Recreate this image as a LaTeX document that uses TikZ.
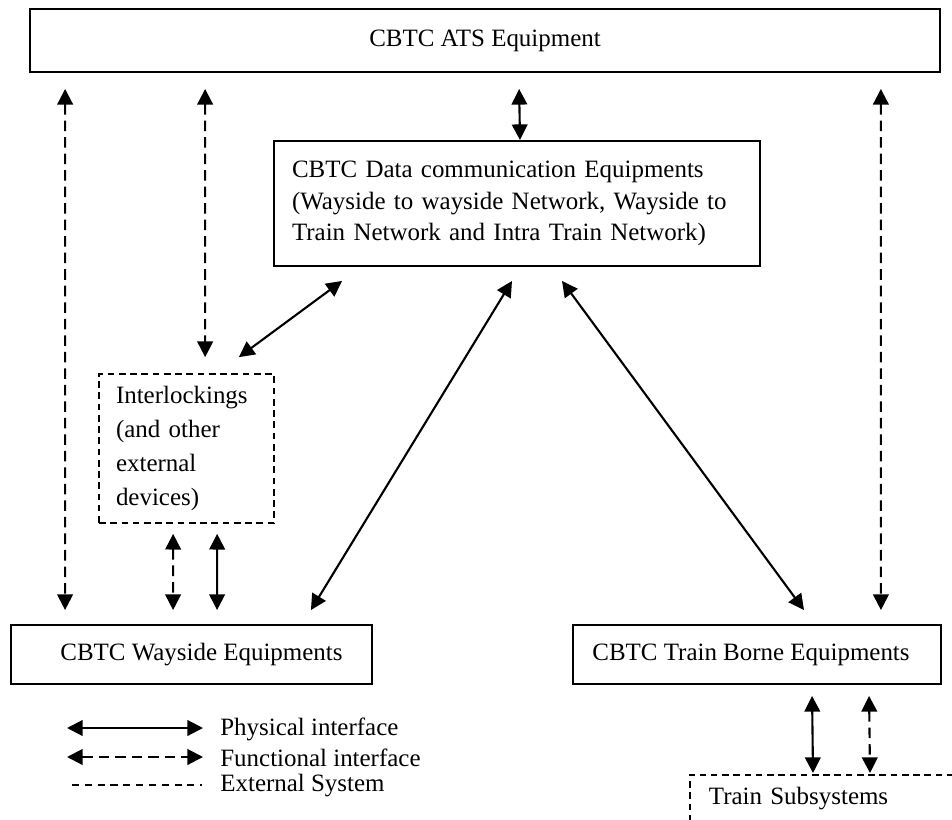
\documentclass[tikz,border=0pt]{standalone}
\usepackage{fontspec}
\setmainfont{Liberation Serif}
\usetikzlibrary{arrows.meta}
\tikzset{
  equip/.style={draw,line width=1.1pt,inner sep=0pt},
  extsys/.style={draw,line width=1pt,dash pattern=on 3.8pt off 2.6pt},
  phyif/.style={line width=1.2pt,{Triangle[length=8.9pt,width=8.9pt]}-{Triangle[length=8.9pt,width=8.9pt]}},
  funcif/.style={phyif,dash pattern=on 6pt off 3.4pt},
  legtext/.style={anchor=west,inner sep=0pt},
}
\begin{document}
\begin{tikzpicture}[x=0.02cm,y=-0.02cm,font=\fontsize{14.2pt}{19pt}\selectfont]
%
\clip (0,0) rectangle (952,820);
%
\node[equip,minimum width=18.2cm,minimum height=1.26cm] (ats) at (485,40.5) {CBTC ATS Equipment};
\node[equip,align=left,text width=9cm,inner xsep=0.36cm,minimum height=2.5cm,
      font=\fontsize{14.2pt}{18pt}\selectfont] (comm) at (517,203.5)
      {CBTC Data communication Equipments\\(Wayside to wayside Network, Wayside to\\Train Network and Intra Train Network)};
\node[extsys,align=left,text width=2.82cm,inner xsep=0.34cm,inner ysep=0pt,minimum height=2.98cm,
      font=\fontsize{14.2pt}{19.3pt}\selectfont] (inter) at (186.5,448.5)
      {Interlockings\\(and other\\external\\devices)};
\node[equip,minimum width=7.22cm,minimum height=1.18cm] (way) at (191.5,654.5) {\hspace*{0.4cm}CBTC Wayside Equipments};
\node[equip,minimum width=7.36cm,minimum height=1.18cm] (train) at (757,654.5) {CBTC Train Borne Equipments\hspace*{0.24cm}};
\node[extsys,anchor=north west,align=left,text width=7cm,inner xsep=0.38cm,inner ysep=0.34cm,
      text height=0.7em,text depth=3cm] (sub) at (689,774) {Train Subsystems};
%
\draw[funcif] ([shift={(36,16)}]ats.south west) -- ([shift={(55,-14)}]way.north west);
\draw[funcif] ([shift={(176,16)}]ats.south west) -- ([shift={(107,-16)}]inter.north west);
\draw[phyif] ([shift={(490,16)}]ats.south west) -- ([shift={(3,0)}]comm.north);
\draw[funcif] ([shift={(-60,16)}]ats.south east) -- ([shift={(-61,-14)}]train.north east);
%
\draw[phyif] ([shift={(-36,-16)}]inter.north east) -- ([shift={(69,14)}]comm.south west);
\draw[phyif] ([shift={(-62,-14)}]way.north east) -- ([shift={(-5,14)}]comm.south);
\draw[phyif] ([shift={(45,14)}]comm.south) -- ([shift={(47,-14)}]train.north);
%
\draw[funcif] ([shift={(75,10)}]inter.south west) -- ([shift={(163,-14)}]way.north west);
\draw[phyif] ([shift={(119,10)}]inter.south west) -- ([shift={(207,-14)}]way.north west);
\draw[phyif] ([shift={(240,11)}]train.south west) -- ([shift={(124,-1)}]sub.north west);
\draw[funcif] ([shift={(297,11)}]train.south west) -- ([shift={(181,-1)}]sub.north west);
%
% legend
\node[legtext] (phylab) at (220,729) {Physical interface};
\node[legtext] (funlab) at (220,758) {Functional interface};
\node[legtext] (extlab) at (220,786) {External System};
\coordinate (phystart) at (67,728);
\coordinate (funstart) at (67,757);
\coordinate (extstart) at (72,785);
\draw[phyif] (phystart) -- ([xshift=-0.34cm]phystart -| phylab.west);
\draw[funcif] (funstart) -- ([xshift=-0.34cm]funstart -| funlab.west);
\draw[line width=0.7pt,dash pattern=on 4pt off 3.3pt] (extstart) -- ([xshift=-0.36cm]extstart -| extlab.west);
%
\end{tikzpicture}
\end{document}
